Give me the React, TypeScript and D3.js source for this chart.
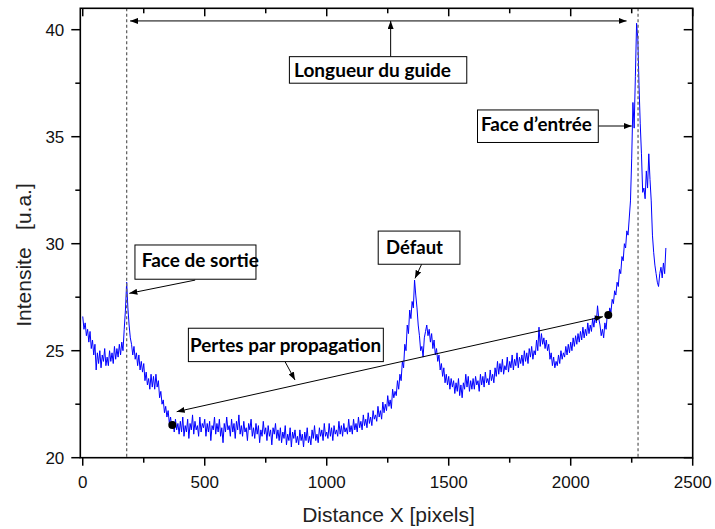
import React from 'react';
import * as d3 from 'd3';

const W = 715;
const H = 529;

// axes
const xDomain = [-10, 2500];
const yDomain = [20, 41];
const xTicks = [0, 500, 1000, 1500, 2000, 2500];
const xMinorTicks = [250, 750, 1250, 1750, 2250];
const yTicks = [20, 25, 30, 35, 40];
const yMinorTicks = [22.5, 27.5, 32.5, 37.5];
const xTitle = 'Distance X [pixels]';
const yTitle = 'Intensite   [u.a.]';

const distanceStart = 0;
const distanceStep = 5;
const intensity = [
  26.6, 26.0, 26.3, 25.7, 26.0, 25.4, 25.9, 25.1, 25.5, 24.8, 25.3, 24.1, 24.9, 24.4, 25.0, 24.2, 24.8, 24.5, 25.1, 24.3,
  24.7, 24.3, 25.0, 24.5, 24.9, 24.4, 25.2, 24.6, 25.1, 24.7, 25.3, 24.8, 25.4, 25.0, 26.0, 26.9, 28.2, 27.0, 26.2, 25.6,
  25.3, 24.8, 25.2, 24.6, 24.9, 24.3, 24.8, 24.1, 24.5, 24.0, 24.4, 23.6, 24.0, 23.4, 23.7, 23.2, 23.9, 23.3, 23.8, 23.2,
  23.9, 23.3, 23.6, 22.8, 23.1, 22.5, 22.7, 22.1, 22.4, 21.9, 22.2, 21.6, 21.9, 21.4, 21.7, 21.2, 21.8, 21.3, 21.6, 21.1,
  21.7, 21.2, 21.9, 21.0, 21.5, 21.2, 21.8, 20.9, 21.6, 21.3, 22.0, 21.1, 21.7, 21.3, 21.5, 21.0, 21.9, 21.2, 21.6, 21.4,
  21.8, 21.0, 21.6, 21.2, 21.7, 20.8, 21.5, 21.3, 21.9, 21.1, 21.6, 21.2, 21.8, 21.0, 21.4, 20.7, 21.6, 21.2, 21.9, 21.3,
  21.5, 21.0, 21.8, 21.2, 21.6, 20.9, 21.7, 21.3, 22.0, 21.1, 21.5, 21.0, 21.7, 21.2, 21.4, 20.8, 21.6, 21.3, 21.8, 21.0,
  21.4, 20.9, 21.6, 21.1, 21.5, 20.7, 21.3, 21.0, 21.7, 21.1, 21.4, 20.8, 21.5, 21.0, 21.3, 20.6, 21.4, 21.1, 21.6, 20.9,
  21.3, 20.8, 21.4, 20.7, 21.2, 20.9, 21.5, 20.6, 21.1, 20.8, 21.4, 20.5, 21.2, 20.9, 21.3, 20.7, 21.0, 20.6, 21.3, 20.8,
  21.1, 20.5, 21.2, 20.8, 21.4, 20.7, 21.0, 20.6, 21.3, 20.9, 21.5, 20.8, 21.1, 20.7, 21.4, 21.0, 21.3, 20.8, 21.6, 21.0,
  21.2, 20.9, 21.6, 21.0, 21.4, 20.8, 21.5, 21.1, 21.3, 21.0, 21.7, 21.1, 21.5, 21.0, 21.6, 21.2, 21.4, 21.1, 21.8, 21.2,
  21.5, 21.1, 21.8, 21.3, 21.6, 21.2, 21.9, 21.4, 21.7, 21.3, 22.0, 21.5, 21.8, 21.4, 22.1, 21.6, 21.9, 21.5, 22.2, 21.8,
  22.0, 21.7, 22.4, 21.9, 22.2, 21.8, 22.6, 22.1, 22.5, 22.2, 22.9, 22.4, 22.7, 22.3, 23.2, 22.8, 23.1, 22.9, 23.6, 23.2,
  23.9, 23.6, 24.5, 24.2, 25.3, 25.0, 26.2, 25.8, 26.9, 26.5, 27.3, 27.0, 28.3, 27.6, 27.0, 26.2, 25.7, 25.0, 25.2, 24.7,
  25.6, 25.9, 26.2, 25.7, 26.0, 25.4, 25.8, 25.1, 25.5, 24.8, 25.1, 24.5, 24.8, 24.1, 24.4, 23.8, 24.2, 23.5, 23.9, 23.4,
  23.8, 23.2, 23.7, 23.3, 23.6, 23.0, 23.5, 23.1, 23.7, 22.9, 23.4, 22.8, 23.5, 23.2, 23.9, 23.3, 23.8, 23.1, 23.6, 23.2,
  23.7, 23.2, 23.8, 23.4, 23.6, 23.1, 23.9, 23.4, 23.8, 23.3, 24.0, 23.5, 23.7, 23.4, 24.1, 23.6, 23.9, 23.5, 24.2, 23.8,
  24.5, 23.9, 24.4, 24.0, 24.6, 23.9, 24.3, 24.1, 24.7, 24.0, 24.5, 24.2, 24.8, 24.1, 24.6, 24.3, 24.9, 24.2, 24.7, 24.4,
  24.8, 24.3, 25.0, 24.5, 24.9, 24.4, 25.1, 24.7, 25.2, 24.6, 25.0, 24.8, 25.5, 25.0, 26.1, 25.2, 25.8, 25.3, 25.6, 25.1,
  25.5, 25.0, 25.3, 24.6, 24.9, 24.3, 24.7, 24.2, 24.5, 24.3, 24.8, 24.4, 25.0, 24.6, 24.9, 24.7, 25.2, 24.8, 25.3, 24.9,
  25.4, 25.0, 25.6, 25.2, 25.7, 25.3, 25.8, 25.4, 25.9, 25.5, 26.1, 25.6, 26.0, 25.7, 26.3, 25.8, 26.2, 25.9, 26.5, 26.1,
  26.6, 26.3, 27.1, 26.5, 26.2, 25.7, 26.0, 25.6, 26.3, 26.0, 26.7, 26.5, 27.0, 26.8, 27.4, 27.2, 27.8, 27.6, 28.2, 28.0,
  28.8, 28.6, 29.4, 29.2, 30.0, 29.8, 30.6, 30.4, 31.2, 32.0, 34.0, 36.6, 35.4, 37.8, 40.3, 39.6, 37.4, 35.6, 34.2, 32.4,
  32.6, 32.1, 33.4, 32.6, 34.2, 33.0, 32.0, 30.4, 29.6, 29.0, 28.6, 28.2, 28.0, 28.6, 28.9, 28.4, 29.1, 28.6, 29.8,
];

// annotations (data units)
const guideEnds = [180, 2276]; // dashed vertical lines
const labelTexts = ['Longueur du guide', 'Face d\u2019entrée', 'Face de sortie', 'Défaut', 'Pertes par propagation'];
const labelBoxX0 = [847, 1618, 214, 1211, 433];
const labelBoxX1 = [1574, 2113, 710, 1546, 1232];
const labelBoxY0 = [38.74, 36.25, 29.94, 30.59, 26.05];
const labelBoxY1 = [37.5, 34.73, 28.34, 29.04, 24.49];
const labelTextX = [866, 1632, 242, 1243, 440];
const labelTextY = [37.78, 35.27, 28.93, 29.5, 24.95];
const labelTextLen = [157, 111, 117, 57, 191];

// arrows
const arrowX1 = [194, 1262, 2113, 461, 1389, 829, 385];
const arrowY1 = [40.41, 38.74, 35.5, 28.3, 29.04, 24.49, 22.15];
const arrowX2 = [2229, 1262, 2250, 191, 1362, 870, 2132];
const arrowY2 = [40.41, 40.41, 35.5, 27.68, 28.38, 23.63, 26.59];
const arrowDouble = [true, false, false, false, false, false, true];

const dotX = [367, 2154];
const dotY = [21.53, 26.67];

export default function App() {
  const x = d3.scaleLinear().domain(xDomain).range([80.3, 692.7]);
  const y = d3.scaleLinear().domain(yDomain).range([457.7, 8.3]);
  const [x0, x1] = x.range();
  const [yb, yt] = y.range();

  const line = d3
    .line<number>()
    .x((_, i) => x(distanceStart + i * distanceStep))
    .y((d) => y(d));

  const tickFont = { fontFamily: '"Liberation Sans", Arial, sans-serif', fontSize: 17, fill: '#111' };
  const titleFont = { fontFamily: '"Liberation Sans", Arial, sans-serif', fontSize: 21, fill: '#222' };
  const annFont = { fontFamily: 'Lato, "Open Sans", sans-serif', fontSize: 18.5, fontWeight: 700, fill: '#000' };

  const major = 8;
  const minor = 5;

  return (
    <svg width={W} height={H} style={{ position: 'absolute', left: 0, top: 0, background: '#fff' }}>
      <defs>
        <marker id="ah" viewBox="0 0 8 6" refX="8" refY="3" markerWidth="8" markerHeight="6"
          markerUnits="userSpaceOnUse" orient="auto-start-reverse">
          <path d="M0,0 L8,3 L0,6 z" fill="#000" />
        </marker>
      </defs>

      {/* data line */}
      <path d={line(intensity) || ''} fill="none" stroke="#0000ff" strokeWidth={1} strokeLinejoin="round" />

      {/* dashed guide ends */}
      {guideEnds.map((g, i) => (
        <line key={'g' + i} x1={x(g)} x2={x(g)} y1={yt} y2={yb} stroke="#666" strokeWidth={1.3} strokeDasharray="3,2.5" />
      ))}

      {/* frame */}
      <rect x={x0} y={yt} width={x1 - x0} height={yb - yt} fill="none" stroke="#000" strokeWidth={1.6} />

      {/* x ticks bottom (outward) and top (inward) */}
      {xTicks.map((t) => (
        <g key={'xt' + t}>
          <line x1={x(t)} x2={x(t)} y1={yb} y2={yb + major} stroke="#000" strokeWidth={1.5} />
          <line x1={x(t)} x2={x(t)} y1={yt} y2={yt + major} stroke="#000" strokeWidth={1.5} />
          <text x={x(t)} y={yb + 30.5} textAnchor="middle" style={tickFont}>{t}</text>
        </g>
      ))}
      {xMinorTicks.map((t) => (
        <g key={'xm' + t}>
          <line x1={x(t)} x2={x(t)} y1={yb} y2={yb + minor} stroke="#000" strokeWidth={1.5} />
          <line x1={x(t)} x2={x(t)} y1={yt} y2={yt + minor} stroke="#000" strokeWidth={1.5} />
        </g>
      ))}

      {/* y ticks left (outward) and right (inward) */}
      {yTicks.map((t) => (
        <g key={'yt' + t}>
          <line x1={x0 - major - 1} x2={x0} y1={y(t)} y2={y(t)} stroke="#000" strokeWidth={1.5} />
          <line x1={x1 - major - 1} x2={x1} y1={y(t)} y2={y(t)} stroke="#000" strokeWidth={1.5} />
          <text x={x0 - 16} y={y(t)} dy="0.36em" textAnchor="end" style={tickFont}>{t}</text>
        </g>
      ))}
      {yMinorTicks.map((t) => (
        <g key={'ym' + t}>
          <line x1={x0 - minor} x2={x0} y1={y(t)} y2={y(t)} stroke="#000" strokeWidth={1.5} />
          <line x1={x1 - minor} x2={x1} y1={y(t)} y2={y(t)} stroke="#000" strokeWidth={1.5} />
        </g>
      ))}

      {/* axis titles */}
      <text x={(x0 + x1) / 2 + 2} y={522} textAnchor="middle" style={titleFont}>{xTitle}</text>
      <text transform={`translate(31, ${(yb + yt) / 2 + 22}) rotate(-90)`} textAnchor="middle"
        style={{ ...titleFont, whiteSpace: 'pre' }}>{yTitle}</text>

      {/* arrows */}
      {arrowX1.map((_, i) => (
        <line key={'a' + i} x1={x(arrowX1[i])} y1={y(arrowY1[i])} x2={x(arrowX2[i])} y2={y(arrowY2[i])}
          stroke="#000" strokeWidth={1}
          markerEnd="url(#ah)" markerStart={arrowDouble[i] ? 'url(#ah)' : undefined} />
      ))}

      {/* dots */}
      {dotX.map((d, i) => (
        <circle key={'d' + i} cx={x(d)} cy={y(dotY[i])} r={4} fill="#000" />
      ))}

      {/* labels */}
      {labelTexts.map((t, i) => (
        <g key={'l' + i}>
          <rect x={x(labelBoxX0[i])} y={y(labelBoxY0[i])}
            width={x(labelBoxX1[i]) - x(labelBoxX0[i])} height={y(labelBoxY1[i]) - y(labelBoxY0[i])}
            fill="#fff" stroke="#000" strokeWidth={1} />
          <text x={x(labelTextX[i])} y={y(labelTextY[i])} textLength={labelTextLen[i]} lengthAdjust="spacingAndGlyphs"
            style={annFont}>{t}</text>
        </g>
      ))}
    </svg>
  );
}
